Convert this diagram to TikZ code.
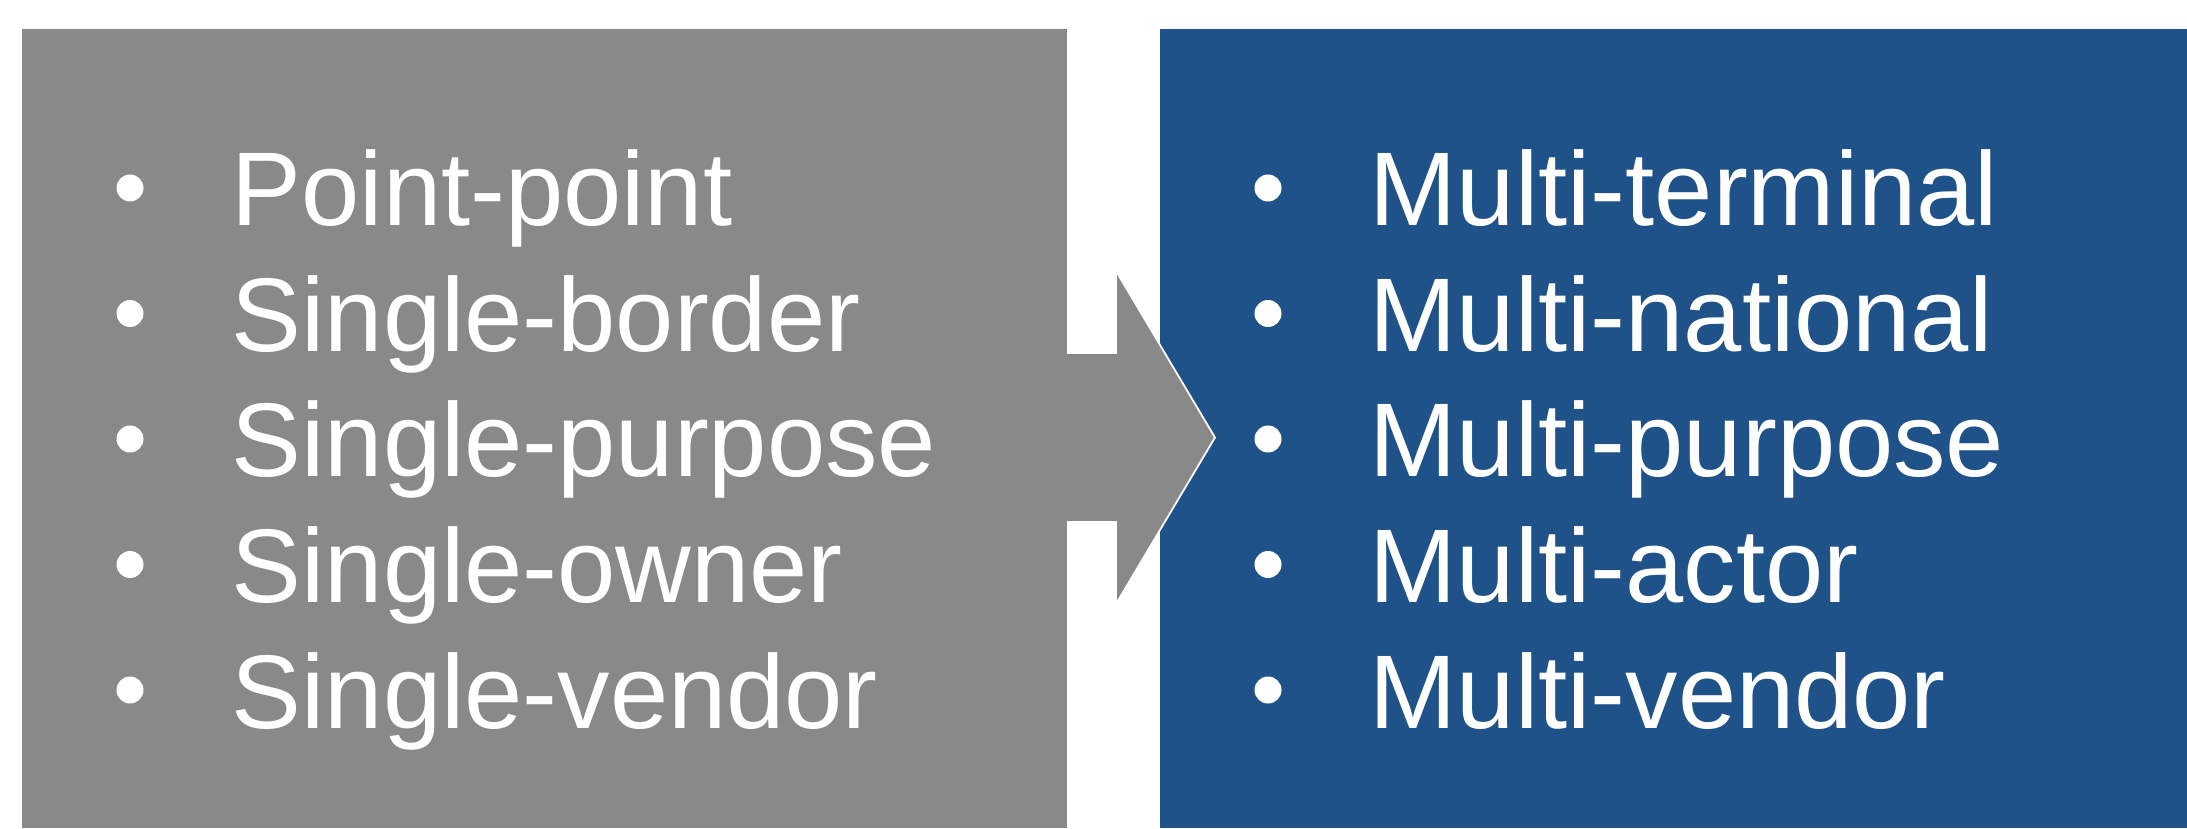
\documentclass[tikz,border=0pt]{standalone}
\usepackage{fontspec}
\setmainfont{Liberation Sans}
\usetikzlibrary{calc}

\definecolor{boxgray}{RGB}{137,137,137}
\definecolor{boxblue}{RGB}{31,82,137}

\tikzset{
  listitem/.style={anchor=base west, inner sep=0pt, text=white,
    font=\fontsize{29.8}{35}\selectfont},
  dot/.style={circle, fill=white, inner sep=0pt, minimum size=0.27cm},
}

\begin{document}
\begin{tikzpicture}

\useasboundingbox (0,0) rectangle (21.87,8.28);

\fill[boxgray] (0.22,0) rectangle (10.67,7.99);
\fill[boxblue] (11.60,0) rectangle (21.87,7.99);

% arrow between the boxes
\fill[boxgray] (10.60,3.06) -- (11.16,3.06) -- (11.16,2.24) -- (12.15,3.905)
  -- (11.16,5.57) -- (11.16,4.75) -- (10.60,4.75) -- cycle;
\draw[white, line width=0.5pt] (10.67,3.06) -- (11.16,3.06) -- (11.16,2.24)
  -- (12.15,3.905) -- (11.16,5.57) -- (11.16,4.75) -- (10.67,4.75);

\foreach \txt [count=\i] in {Point-point,Single-border,Single-purpose,Single-owner,Single-vendor} {
 \node[listitem] (single\i) at (2.31,{6.02-1.255*(\i-1)}) {\txt};
 \node[dot] (sdot\i) at (1.30,{6.40-1.255*(\i-1)}) {};
};

\foreach \txt [count=\i] in {Multi-terminal,Multi-national,Multi-purpose,Multi-actor,Multi-vendor} {
 \node[listitem] (multi\i) at (13.69,{6.02-1.255*(\i-1)}) {\txt};
 \node[dot] (mdot\i) at (12.68,{6.40-1.255*(\i-1)}) {};
};

\end{tikzpicture}
\end{document}
